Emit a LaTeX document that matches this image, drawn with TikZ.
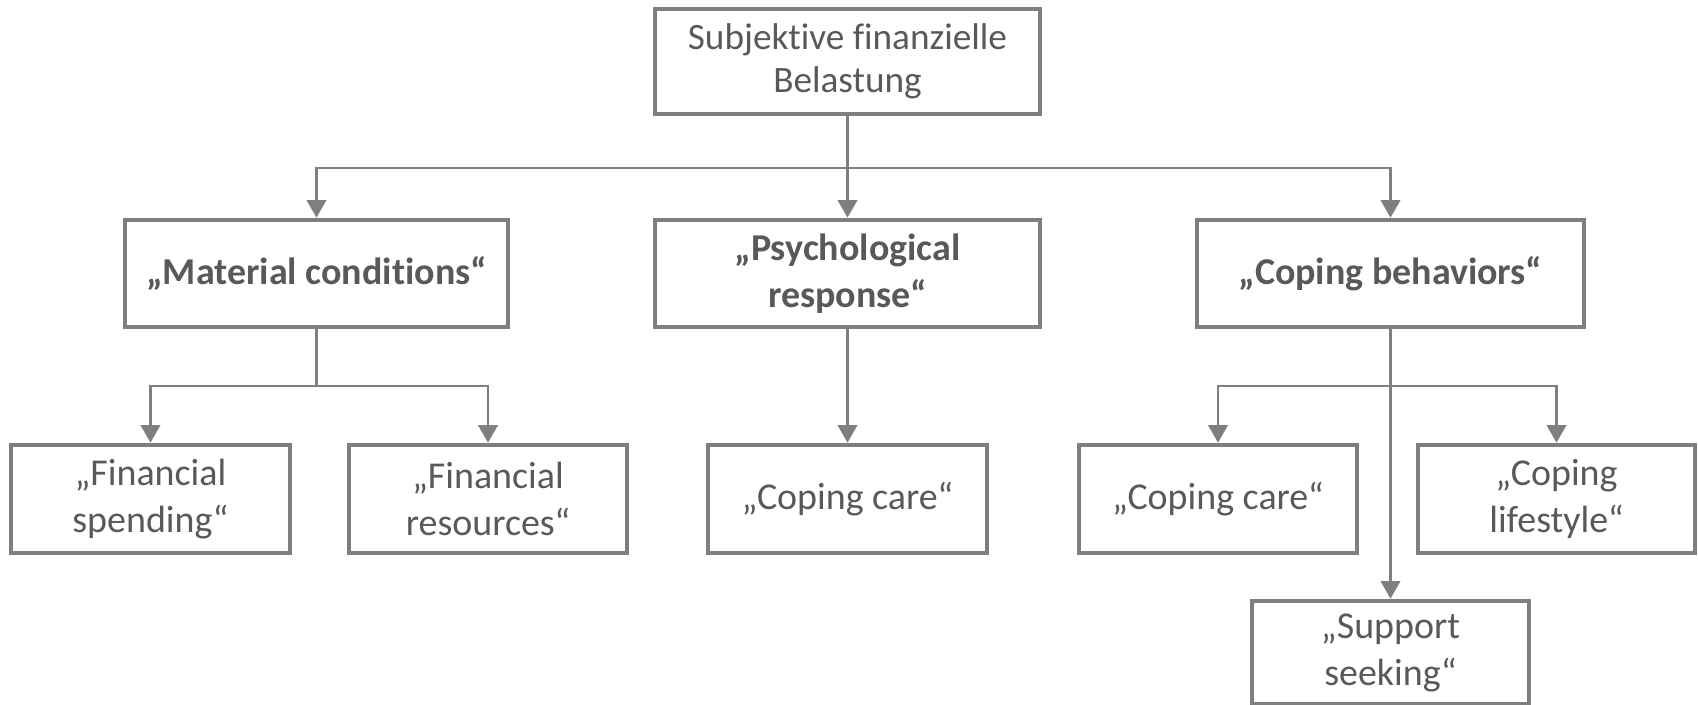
\documentclass[tikz,border=0pt]{standalone}
\usepackage{fontspec}
\setmainfont{Carlito}[Ligatures=NoCommon]
\usepackage{tikz}
\usetikzlibrary{arrows.meta}
\definecolor{linegray}{HTML}{7F7F7F}
\definecolor{textgray}{HTML}{595959}

\tikzset{
    box/.style={draw=linegray, line width=1.3pt, text=textgray, align=center, inner sep=2pt, font=\fontsize{10.8}{13.4}\selectfont},
    conn/.style={draw=linegray, line width=0.75pt},
    arr/.style={conn, -{Triangle[length=5pt,width=5.5pt]}}
}

\begin{document}
\begin{tikzpicture}[x=1cm, y=1cm]
    \useasboundingbox (0,0) rectangle (16.98,-7.05);

    % Level 0
    \node[box, minimum width=3.85cm, minimum height=1.05cm, font=\fontsize{10.6}{12.2}\selectfont] (B0) at (8.475,-0.615) {Subjektive finanzielle\\Belastung};

    % Level 1
    \node[box, minimum width=3.83cm, minimum height=1.07cm, font=\bfseries\fontsize{10.8}{13.4}\selectfont] (M) at (3.165,-2.735) {„Material conditions“};
    \node[box, minimum width=3.85cm, minimum height=1.07cm, font=\bfseries\fontsize{10.8}{13.4}\selectfont] (P) at (8.475,-2.735) {„Psychological\\response“};
    \node[box, minimum width=3.87cm, minimum height=1.07cm, font=\bfseries\fontsize{10.8}{13.4}\selectfont] (C) at (13.905,-2.735) {„Coping behaviors“};

    % Level 2
    \node[box, minimum width=2.79cm, minimum height=1.08cm] (M1) at (1.505,-4.99) {„Financial\\spending“};
    \node[box, minimum width=2.78cm, minimum height=1.08cm] (M2) at (4.88,-4.99) {„Financial\\resources“};
    \node[box, minimum width=2.79cm, minimum height=1.08cm] (P1) at (8.475,-4.99) {„Coping care“};
    \node[box, minimum width=2.78cm, minimum height=1.08cm] (C1) at (12.18,-4.99) {„Coping care“};
    \node[box, minimum width=2.77cm, minimum height=1.08cm] (C2) at (15.565,-4.99) {„Coping\\lifestyle“};
    \node[box, minimum width=2.77cm, minimum height=1.03cm] (C3) at (13.905,-6.525) {„Support\\seeking“};

    % junctions
    \coordinate (J0) at (8.475,-1.68);
    \coordinate (J1) at (3.165,-3.86);
    \coordinate (J2) at (13.905,-3.86);

    \draw[conn] (B0) -- (J0);
    \draw[arr] (J0) -| (M);
    \draw[arr] (J0) -- (P);
    \draw[arr] (J0) -| (C);

    \draw[conn] (M) -- (J1);
    \draw[arr] (J1) -| (M1);
    \draw[arr] (J1) -| (M2);

    \draw[arr] (P) -- (P1);

    \draw[arr] (C) -- (C3);
    \draw[arr] (J2) -| (C1);
    \draw[arr] (J2) -| (C2);
\end{tikzpicture}
\end{document}
